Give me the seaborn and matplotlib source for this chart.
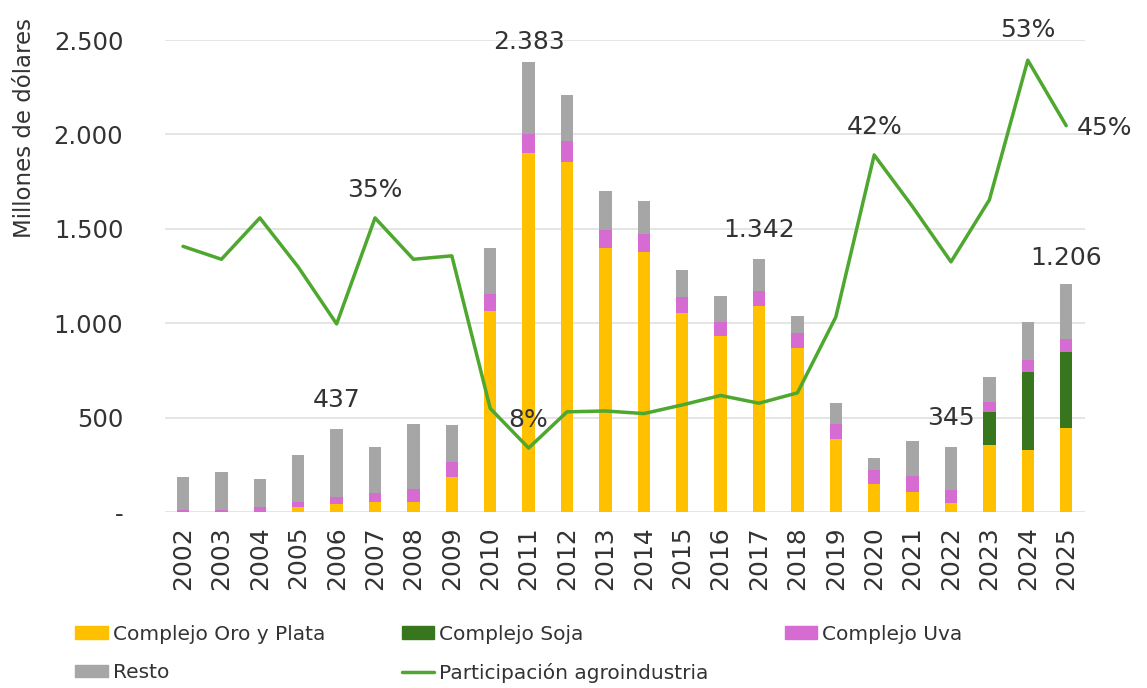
import numpy as np
import pandas as pd
import matplotlib
matplotlib.use("Agg")
import matplotlib.pyplot as plt
from matplotlib.patches import Patch
from matplotlib.lines import Line2D
from matplotlib.ticker import FuncFormatter
import seaborn as sns

# DATA (millones de dólares)
years = [str(y) for y in range(2002, 2026)]
oro_plata = [0, 0, 0, 25, 44, 51, 51, 184, 1065, 1904, 1852, 1400, 1377, 1056,
             932, 1092, 869, 385, 147, 104, 50, 357, 331, 446]
soja = [0, 0, 0, 0, 0, 0, 0, 0, 0, 0, 0, 0, 0, 0,
        0, 0, 0, 0, 0, 0, 0, 173, 409, 399]
uva = [10, 12, 25, 30, 36, 49, 71, 83, 90, 99, 111, 92, 93, 83,
       73, 77, 81, 83, 78, 87, 65, 51, 67, 72]
resto = [175, 198, 150, 249, 357, 245, 346, 196, 245, 380, 244, 206, 179, 145,
         139, 173, 90, 109, 63, 186, 230, 132, 199, 289]
# participación agroindustria (%)
participacion = [31.4, 29.9, 34.7, 29.0, 22.4, 34.7, 29.9, 30.3, 12.6, 8.0,
                 12.2, 12.3, 12.0, 13.0, 14.1, 13.2, 14.4, 23.2, 42.0, 36.0,
                 29.6, 36.8, 53.0, 45.4]

labels_text = ["437", "35%", "2.383", "8%", "1.342", "42%", "345", "53%", "1.206", "45%"]
# label placement (category index, value on the bar axis)
labels_pos = [(4, 594), (5, 1707), (9, 2491), (9, 488), (15, 1495),
              (18, 2040), (20, 498), (22, 2555), (23, 1346), (24.0, 2035)]

df = pd.DataFrame({"year": years, "oro": oro_plata, "soja": soja,
                   "uva": uva, "resto": resto})
df["c_soja"] = df["oro"] + df["soja"]
df["c_uva"] = df["c_soja"] + df["uva"]
df["c_resto"] = df["c_uva"] + df["resto"]

C_ORO = "#FFC000"
C_SOJA = "#38761D"
C_UVA = "#D66BD2"
C_RESTO = "#A6A6A6"
C_LINE = "#4EA72E"
TXT = "#333333"

sns.set_theme(style="white")
plt.rcParams["font.family"] = ["DejaVu Sans"]

fig = plt.figure(figsize=(11.47, 6.88), dpi=100)
ax = fig.add_axes([165 / 1147, 1 - 512 / 688, 920 / 1147, 472 / 688])

# stacked bars: draw cumulative totals from tallest to shortest
for col, color in [("c_resto", C_RESTO), ("c_uva", C_UVA),
                   ("c_soja", C_SOJA), ("oro", C_ORO)]:
    sns.barplot(data=df, x="year", y=col, color=color, width=0.32,
                saturation=1, linewidth=0, ax=ax, zorder=3)

ax.set_ylim(0, 2500)
ax.set_xlim(-0.47, 23.49)
ax.set_yticks([0, 500, 1000, 1500, 2000, 2500])
ax.yaxis.set_major_formatter(FuncFormatter(
    lambda v, p: "-" if v == 0 else f"{int(v):,}".replace(",", ".")))
ax.grid(axis="y", color="#E0E0E0", lw=1.2, zorder=0)
ax.set_xlabel("")
ax.set_ylabel("")
for s in ax.spines.values():
    s.set_visible(False)
ax.tick_params(axis="y", labelsize=17.5, colors=TXT, length=0, pad=30)
ax.tick_params(axis="x", labelsize=18, colors=TXT, length=0, rotation=90, pad=10)

# participation line on a hidden secondary axis
ax2 = ax.twinx()
sns.lineplot(x=np.arange(len(years)), y=participacion, color=C_LINE, lw=2.5,
             ax=ax2, sort=False)
ax2.set_ylim(0.58, 55.34)
ax2.set_axis_off()

for txt, (xi, yv) in zip(labels_text, labels_pos):
    ax.text(xi, yv, txt, ha="center", va="center", fontsize=18, color=TXT,
            zorder=5, clip_on=False)

fig.text(25 / 1147, 1 - 18 / 688, "Millones de dólares", rotation=90,
         ha="center", va="top", fontsize=16.5, color=TXT)

handles = [Patch(color=C_ORO, label="Complejo Oro y Plata"),
           Patch(color=C_RESTO, label="Resto"),
           Patch(color=C_SOJA, label="Complejo Soja"),
           Line2D([0], [0], color=C_LINE, lw=2.5, label="Participación agroindustria"),
           Patch(color=C_UVA, label="Complejo Uva")]
fig.legend(handles=handles, ncol=3, loc="upper left",
           bbox_to_anchor=(0.05, 0.118), frameon=False, fontsize=14.5,
           handlelength=1.6, handleheight=0.6, handletextpad=0.25,
           columnspacing=3.8, labelspacing=0.95, labelcolor=TXT)

plt.savefig("out.png", dpi=100)
plt.close()
